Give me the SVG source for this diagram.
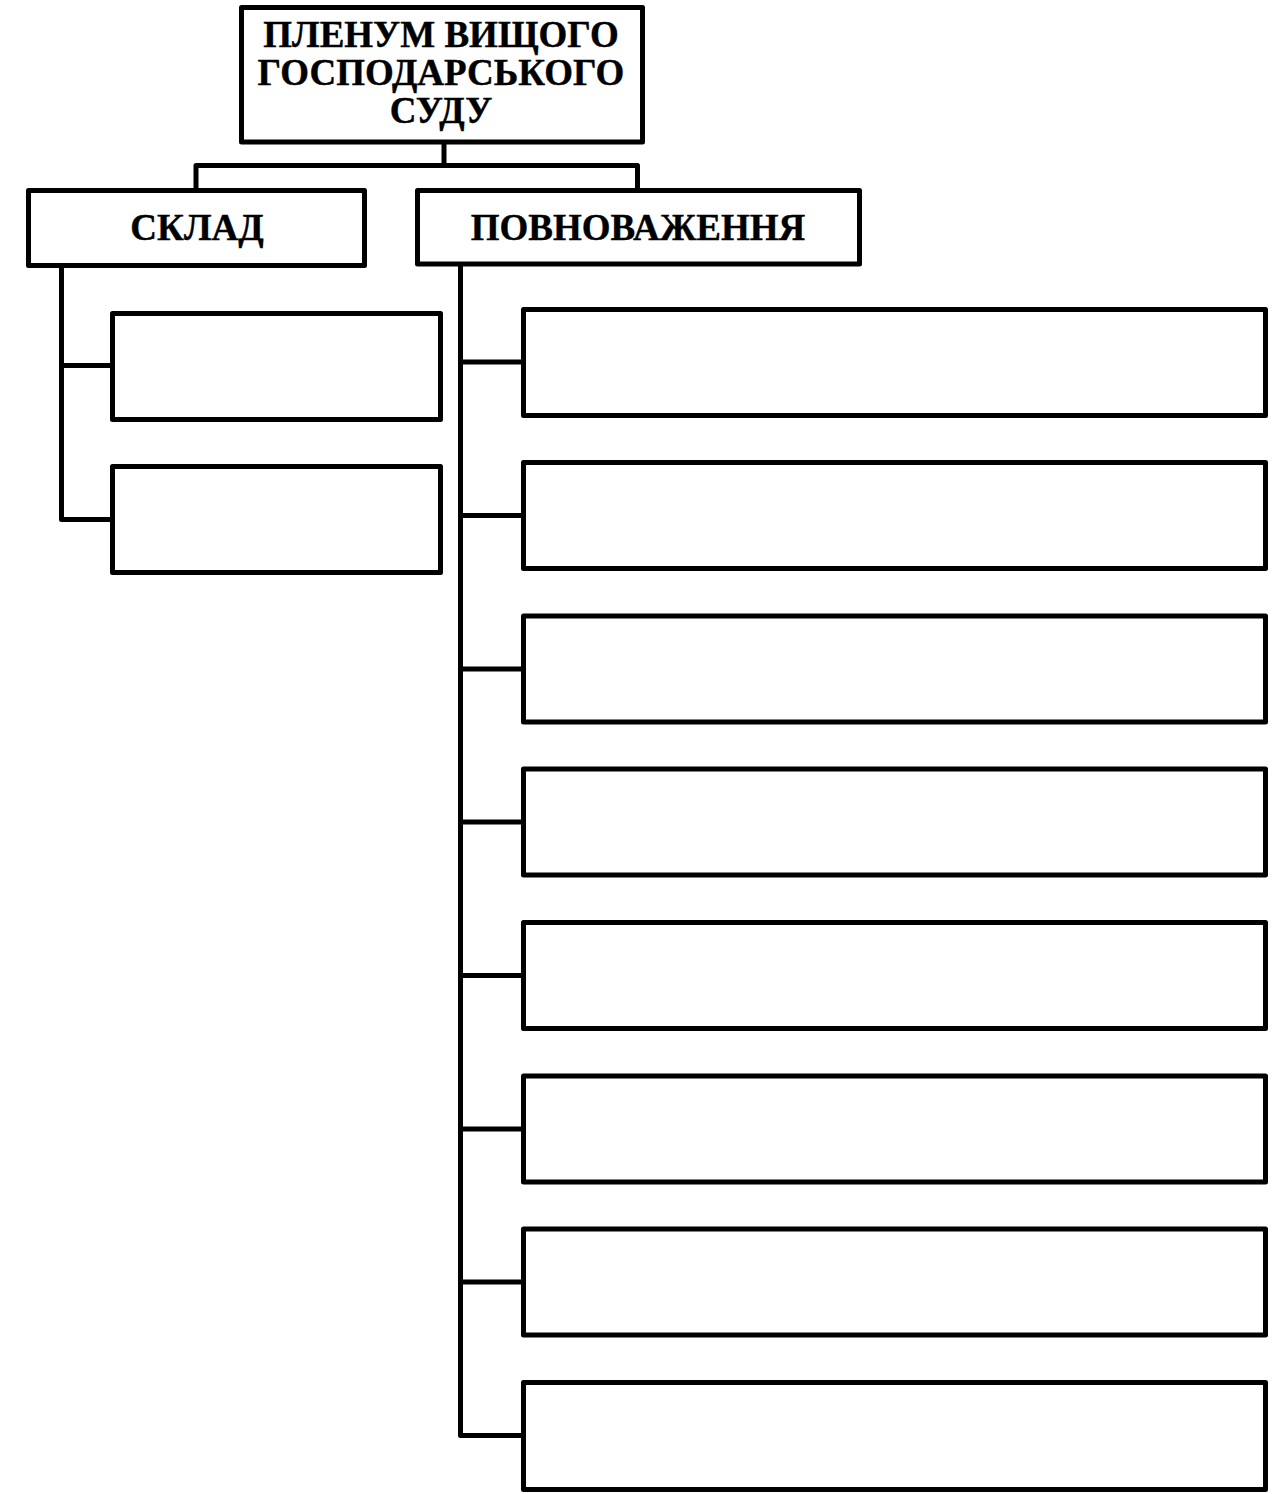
<svg xmlns="http://www.w3.org/2000/svg" width="1288" height="1494" viewBox="0 0 1288 1494">
<style>
.box{fill:#fff;stroke:#000;stroke-width:5;stroke-linejoin:round}
.ln{fill:none;stroke:#000;stroke-width:5;stroke-linejoin:round}
.t{font-family:"Liberation Serif","Times New Roman",serif;font-weight:bold;font-size:37px;text-anchor:middle;fill:#000;stroke:#000;stroke-width:0.4}
</style>
<rect width="1288" height="1494" fill="#fff"/>
<g id="connectors">
<path class="ln" d="M444,142 V165.5 M196,190.5 V165.5 H637.5 V190.5"/>
<path class="ln" d="M61.5,265.5 V519.5 H112.5 M61.5,365.5 H112.5"/>
<path class="ln" d="M460.5,264 V1435.5 H523.5 M460.5,362 H523.5 M460.5,515.5 H523.5 M460.5,669 H523.5 M460.5,822 H523.5 M460.5,975.5 H523.5 M460.5,1129 H523.5 M460.5,1282 H523.5"/>
</g>
<g id="plenum">
<rect class="box" x="241.5" y="7.5" width="401" height="134.5"/>
<text class="t" x="441" y="47">ПЛЕНУМ ВИЩОГО</text>
<text class="t" x="441" y="85">ГОСПОДАРСЬКОГО</text>
<text class="t" x="441" y="123">СУДУ</text>
</g>
<g id="sklad">
<rect class="box" x="28.5" y="190.5" width="336" height="75"/>
<text class="t" x="197" y="240">СКЛАД</text>
</g>
<g id="povnovazhennia">
<rect class="box" x="417.5" y="190.5" width="442" height="73.5"/>
<text class="t" x="638" y="240">ПОВНОВАЖЕННЯ</text>
</g>
<g id="sklad-1"><rect class="box" x="112.5" y="313.5" width="328" height="106"/></g>
<g id="sklad-2"><rect class="box" x="112.5" y="466.5" width="328" height="106"/></g>
<g id="pov-1"><rect class="box" x="523.5" y="309.5" width="742" height="106"/></g>
<g id="pov-2"><rect class="box" x="523.5" y="462.5" width="742" height="106"/></g>
<g id="pov-3"><rect class="box" x="523.5" y="616" width="742" height="106"/></g>
<g id="pov-4"><rect class="box" x="523.5" y="769" width="742" height="106"/></g>
<g id="pov-5"><rect class="box" x="523.5" y="922.5" width="742" height="106"/></g>
<g id="pov-6"><rect class="box" x="523.5" y="1076" width="742" height="106"/></g>
<g id="pov-7"><rect class="box" x="523.5" y="1229" width="742" height="106"/></g>
<g id="pov-8"><rect class="box" x="523.5" y="1382.5" width="742" height="107"/></g>
</svg>
